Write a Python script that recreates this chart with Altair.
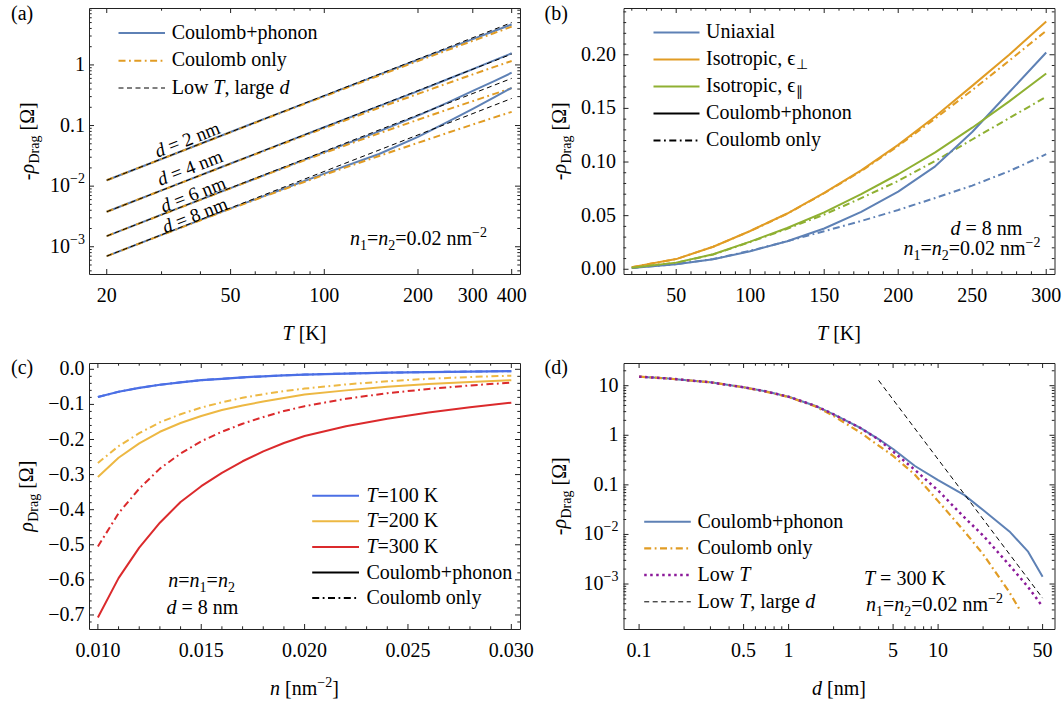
import altair as alt
import pandas as pd

# ---------------------------------------------------------------- data
# (a) -rho_Drag vs T (log-log) for four layer separations d = 2, 4, 6, 8 nm
T_A = [20, 30, 50, 70, 100, 150, 200, 250, 300, 350, 400]
T_A_ENDS = [20, 400]
D_VALUES = [2, 4, 6, 8]
A_PHONON = {
    2: [0.0125, 0.0281, 0.0781, 0.153, 0.309, 0.693, 1.22, 1.88, 2.67, 3.60, 4.65],
    4: [0.00378, 0.0085, 0.0236, 0.0461, 0.0936, 0.209, 0.370, 0.585, 0.851, 1.175, 1.557],
    6: [0.0015, 0.00338, 0.00928, 0.0180, 0.0364, 0.0802, 0.1455, 0.241, 0.372, 0.537, 0.744],
    8: [0.0007, 0.00157, 0.00429, 0.00815, 0.0161, 0.0339, 0.0651, 0.116, 0.189, 0.289, 0.42],
}
A_COULOMB = {
    2: [0.0125, 0.0281, 0.0773, 0.151, 0.303, 0.668, 1.16, 1.77, 2.50, 3.33, 4.28],
    4: [0.00378, 0.0085, 0.0234, 0.0454, 0.0907, 0.196, 0.333, 0.502, 0.698, 0.921, 1.164],
    6: [0.0015, 0.00336, 0.00924, 0.0178, 0.0353, 0.0743, 0.1245, 0.185, 0.253, 0.330, 0.414],
    8: [0.0007, 0.00156, 0.00424, 0.00797, 0.0154, 0.0315, 0.0518, 0.0763, 0.104, 0.135, 0.168],
}
A_LOWT = {2: [0.0125, 5.0], 4: [0.00378, 1.51], 6: [0.0015, 0.60], 8: [0.0007, 0.28]}
# label anchors (T, value) for the rotated "d = ... nm" captions
A_DLABEL_T = [36.3, 37.0, 37.9, 38.4]
A_DLABEL_V = [0.0583, 0.0199, 0.00723, 0.00328]

# (b) -rho_Drag vs T at d = 8 nm, three dielectric models
T_B = [20, 50, 75, 100, 125, 150, 175, 200, 225, 250, 275, 300]
B_UNI_PH = [0.0013, 0.0047, 0.0093, 0.0168, 0.0262, 0.0380, 0.0535, 0.0724, 0.0960, 0.128, 0.165, 0.2021]
B_UNI_CO = [0.0013, 0.0048, 0.0095, 0.0172, 0.0262, 0.0355, 0.0450, 0.0553, 0.0665, 0.0780, 0.0915, 0.1073]
B_PERP_PH = [0.0020, 0.0095, 0.0210, 0.0357, 0.0520, 0.0712, 0.0922, 0.116, 0.1425, 0.171, 0.200, 0.231]
B_PERP_CO = [0.0020, 0.0095, 0.0210, 0.0356, 0.0518, 0.0709, 0.0916, 0.115, 0.1405, 0.1670, 0.1945, 0.2224]
B_PAR_PH = [0.0015, 0.0062, 0.0140, 0.0258, 0.0385, 0.0530, 0.0700, 0.0886, 0.1090, 0.1320, 0.1565, 0.1825]
B_PAR_CO = [0.0015, 0.0061, 0.0138, 0.0254, 0.0378, 0.0510, 0.0663, 0.0824, 0.1010, 0.1210, 0.1410, 0.1608]

# (c) rho_Drag vs density n at d = 8 nm
N_C = [0.010, 0.011, 0.012, 0.013, 0.014, 0.015, 0.016, 0.017, 0.018, 0.019,
       0.020, 0.022, 0.024, 0.026, 0.028, 0.030]
C_100_PH = [-0.079, -0.064, -0.053, -0.044, -0.037, -0.031, -0.027, -0.023, -0.020, -0.017,
            -0.015, -0.012, -0.0095, -0.0078, -0.0064, -0.0053]
C_100_CO = [-0.079, -0.064, -0.053, -0.044, -0.037, -0.031, -0.027, -0.023, -0.020, -0.017,
            -0.015, -0.012, -0.0095, -0.0078, -0.0064, -0.0053]
C_200_PH = [-0.307, -0.252, -0.211, -0.178, -0.153, -0.133, -0.116, -0.103, -0.092, -0.082,
            -0.072, -0.060, -0.050, -0.042, -0.036, -0.031]
C_200_CO = [-0.267, -0.219, -0.182, -0.151, -0.128, -0.109, -0.094, -0.081, -0.071, -0.062,
            -0.055, -0.043, -0.034, -0.027, -0.022, -0.018]
C_300_PH = [-0.707, -0.595, -0.508, -0.437, -0.378, -0.333, -0.295, -0.262, -0.234, -0.210,
            -0.190, -0.162, -0.141, -0.123, -0.108, -0.095]
C_300_CO = [-0.505, -0.410, -0.340, -0.283, -0.240, -0.205, -0.178, -0.155, -0.136, -0.119,
            -0.105, -0.084, -0.068, -0.056, -0.046, -0.038]

# (d) -rho_Drag vs separation d at T = 300 K
D_D = [0.1, 0.15, 0.2, 0.3, 0.5, 0.7, 1, 1.5, 2, 3, 4, 5, 7, 10, 15, 20, 30, 40, 50]
D_PH = [15.2, 14.1, 13.1, 11.7, 9.3, 7.7, 6.0, 3.95, 2.65, 1.42, 0.84, 0.53, 0.24, 0.125,
        0.062, 0.031, 0.0115, 0.0045, 0.0014]
D_LT = [15.2, 14.1, 13.1, 11.7, 9.3, 7.7, 6.0, 3.95, 2.65, 1.42, 0.82, 0.47, 0.20, 0.077,
        0.022, 0.0095, 0.0024, 0.00087, 0.00035]
D_D_CO = [0.1, 0.15, 0.2, 0.3, 0.5, 0.7, 1, 1.5, 2, 3, 4, 5, 7, 10, 15, 20, 30, 35]
D_CO = [15.2, 14.1, 13.1, 11.7, 9.3, 7.6, 5.9, 3.85, 2.45, 1.15, 0.62, 0.385, 0.16, 0.047,
        0.0115, 0.0040, 0.00068, 0.00031]
D_D_LTLD = [4, 50]
D_LTLD = [12.8, 5.2e-4]

# ---------------------------------------------------------------- style
FONT = "Liberation Serif"
W, H = 431, 266
FRAME = "#222222"
BLUE, ORANGE, GREEN = "#5E81B5", "#E19C24", "#8FB032"
C_BLUE, C_GOLD, C_RED = "#4B6FE5", "#EDB843", "#DB2A2C"
PURPLE = "#8C1A9A"
DASHDOT = [7, 3.5, 1.8, 3.5]
DASHED = [5, 3.5]
DOTTED = [2.5, 3.5]
ONE = pd.DataFrame({"k": [0]})

# approximate advance widths (1/1000 em) used to lay out mixed-style text runs
REG = {" ": 250, "(": 333, ")": 333, "+": 564, ",": 250, ".": 250, "=": 564, "[": 333,
       "]": 333, "\u2212": 564, "-": 333, "C": 667, "D": 722, "I": 333, "K": 722, "L": 611,
       "T": 611, "U": 722, "\u03a9": 768, "a": 444, "b": 500, "c": 444, "d": 500, "e": 444,
       "g": 500, "h": 500, "i": 278, "l": 278, "m": 778, "n": 500, "o": 500, "p": 500,
       "r": 333, "s": 389, "t": 278, "u": 500, "w": 722, "x": 500, "y": 500, "z": 444,
       "\u03c1": 500, "\u03f5": 420, "\u22a5": 650, "\u2225": 420}
ITA = {"T": 556, "d": 500, "n": 500, "\u03c1": 500}


def R(t, size=20, sh=0):
    return (t, False, size, sh)


def I(t, size=20, sh=0):
    return (t, True, size, sh)


def text_width(s, size, italic):
    tbl = ITA if italic else REG
    return sum(tbl.get(ch, REG.get(ch, 500)) for ch in s) * size / 1000.0


def rich(pieces, x, y, align="left", angle=0):
    """Lay out a run of differently styled text pieces starting at a baseline point."""
    widths = [text_width(t, s, it) for t, it, s, sh in pieces]
    total = sum(widths)
    cum = {"left": 0.0, "center": -total / 2.0, "right": -total}[align]
    out = []
    for (t, it, s, sh), w in zip(pieces, widths):
        # SVG drops leading blanks, so they are turned into an offset
        lead = text_width(t[:len(t) - len(t.lstrip(" "))], s, False)
        pos = cum + lead
        if angle == 0:
            px, py = x + pos, y + sh
        else:
            px, py = x + sh, y - pos
        props = dict(text=t.strip(" "), font=FONT, fontSize=s, align="left",
                     baseline="alphabetic", color="black")
        if it:
            props["fontStyle"] = "italic"
        if angle:
            props["angle"] = angle
        out.append(alt.Chart(ONE).mark_text(**props).encode(x=alt.value(px), y=alt.value(py)))
        cum += w
    return out


def sc(domain, log=False):
    if log:
        return alt.Scale(type="log", domain=domain, nice=False)
    return alt.Scale(type="linear", domain=domain, nice=False, zero=False)


def curve(xs, ys, xsc, ysc, color, width=2.0, dash=None):
    df = pd.DataFrame({"x": xs, "y": ys})
    props = dict(color=color, strokeWidth=width, clip=True, strokeJoin="round", strokeCap="butt")
    if dash is not None:
        props["strokeDash"] = dash
    return alt.Chart(df).mark_line(**props).encode(
        x=alt.X("x:Q", scale=xsc, axis=None),
        y=alt.Y("y:Q", scale=ysc, axis=None))


def frame_ticks(xsc, ysc, xmaj, xmin, ymaj, ymin):
    layers = []
    for vals, ln in ((xmaj, 5), (xmin, 2.7)):
        df = pd.DataFrame({"v": vals})
        for y0, y1 in ((H, H - ln), (0, ln)):
            layers.append(alt.Chart(df).mark_rule(color=FRAME, strokeWidth=1).encode(
                x=alt.X("v:Q", scale=xsc, axis=None), y=alt.value(y0), y2=alt.value(y1)))
    for vals, ln in ((ymaj, 5), (ymin, 2.7)):
        df = pd.DataFrame({"v": vals})
        for x0, x1 in ((0, ln), (W, W - ln)):
            layers.append(alt.Chart(df).mark_rule(color=FRAME, strokeWidth=1).encode(
                y=alt.Y("v:Q", scale=ysc, axis=None), x=alt.value(x0), x2=alt.value(x1)))
    return layers


def xlabels(vals, texts, xsc):
    df = pd.DataFrame({"v": vals, "t": texts})
    return alt.Chart(df).mark_text(font=FONT, fontSize=20, baseline="middle", align="center",
                                   color="black").encode(
        x=alt.X("v:Q", scale=xsc, axis=None), y=alt.value(H + 21.7), text="t:N")


def ylabels(vals, texts, ysc, gap):
    df = pd.DataFrame({"v": vals, "t": texts})
    return alt.Chart(df).mark_text(font=FONT, fontSize=20, baseline="middle", align="right",
                                   color="black").encode(
        y=alt.Y("v:Q", scale=ysc, axis=None), x=alt.value(-gap), text="t:N")


def ypowers(vals, exps, ysc, gap):
    df = pd.DataFrame({"v": vals, "e": exps})
    base = alt.Chart(df).mark_text(font=FONT, fontSize=20, baseline="middle", align="right",
                                   color="black", text="10").encode(
        y=alt.Y("v:Q", scale=ysc, axis=None), x=alt.value(-gap - 15))
    sup = alt.Chart(df).mark_text(font=FONT, fontSize=14, baseline="middle", align="right",
                                  color="black", dy=-7).encode(
        y=alt.Y("v:Q", scale=ysc, axis=None), x=alt.value(-gap), text="e:N")
    return [base, sup]


def legend(entries, x0, x1, tx, rows, shift=6):
    layers = []
    for (color, width, dash, pieces), ry in zip(entries, rows):
        props = dict(color=color, strokeWidth=width, strokeCap="butt")
        if dash is not None:
            props["strokeDash"] = dash
        layers.append(alt.Chart(ONE).mark_rule(**props).encode(
            x=alt.value(x0), x2=alt.value(x1), y=alt.value(ry)))
        layers += rich(pieces, tx, ry + shift)
    return layers


def ytitle(pieces, x):
    return rich(pieces, x, H / 2.0, align="center", angle=270)


RHO_NEG = [R("-"), I("\u03c1"), R("Drag", 14, 5), R(" [\u03a9]")]
RHO = [I("\u03c1"), R("Drag", 14, 5), R(" [\u03a9]")]
DENS = [I("n"), R("1", 14, 5), R("="), I("n"), R("2", 14, 5), R("=0.02 nm"),
        R("\u22122", 14, -8)]
XTITLE_Y = 332

# ---------------------------------------------------------------- panel (a)
XA = sc([17.54, 425.4], log=True)
YA = sc([3.55e-4, 8.70], log=True)
la = []
for d in D_VALUES:
    la.append(curve(T_A, A_PHONON[d], XA, YA, BLUE, 2.0))
    la.append(curve(T_A, A_COULOMB[d], XA, YA, ORANGE, 2.0, DASHDOT))
    la.append(curve(T_A_ENDS, A_LOWT[d], XA, YA, "black", 1.0, DASHED))
la += frame_ticks(XA, YA, [20, 50, 100, 200, 300, 400], [30, 40, 60, 70, 80, 90],
                  [0.001, 0.01, 0.1, 1],
                  [k * 10.0 ** e for e in (-4, -3, -2, -1, 0) for k in range(2, 10)
                   if 3.6e-4 < k * 10.0 ** e < 8.6])
la.append(xlabels([20, 50, 100, 200, 300, 400], ["20", "50", "100", "200", "300", "400"], XA))
la.append(ylabels([1, 0.1], ["1", "0.1"], YA, 4))
la += ypowers([0.01, 0.001], ["\u22122", "\u22123"], YA, 4)
dlab = pd.DataFrame({"T": A_DLABEL_T, "v": A_DLABEL_V,
                     "t": ["= %d nm" % d for d in D_VALUES]})
for props, enc_text in ((dict(dx=-34.1, fontStyle="italic", text="d"), None),
                        (dict(dx=-19.8), "t:N")):
    mk = alt.Chart(dlab).mark_text(font=FONT, fontSize=19, angle=338.7, align="left",
                                   baseline="middle", color="black", **props)
    enc = dict(x=alt.X("T:Q", scale=XA, axis=None), y=alt.Y("v:Q", scale=YA, axis=None))
    if enc_text:
        enc["text"] = enc_text
    la.append(mk.encode(**enc))
la += legend([(BLUE, 2, None, [R("Coulomb+phonon")]),
              (ORANGE, 2, DASHDOT, [R("Coulomb only")]),
              ("black", 1, DASHED, [R("Low "), I("T"), R(", large "), I("d")])],
             29.5, 76, 82.7, [25, 52.7, 80], shift=5.5)
la += rich(DENS, 261, 236.5)
la += rich([I("T"), R(" [K]")], W / 2.0, XTITLE_Y, align="center")
la += ytitle(RHO_NEG, -55)
la += rich([R("(a)")], -78, 11.5)
# white anchor fixing the page origin
la.append(alt.Chart(ONE).mark_rect(color="white").encode(
    x=alt.value(-88), x2=alt.value(-87), y=alt.value(-7), y2=alt.value(-6)))
pa = alt.layer(*la).properties(width=W, height=H)

# ---------------------------------------------------------------- panel (b)
XB = sc([14.4, 305.6])
YB = sc([-0.0044, 0.2436])
lb = [
    curve(T_B, B_UNI_CO, XB, YB, BLUE, 2.0, DASHDOT),
    curve(T_B, B_PERP_CO, XB, YB, ORANGE, 2.0, DASHDOT),
    curve(T_B, B_PAR_CO, XB, YB, GREEN, 2.0, DASHDOT),
    curve(T_B, B_UNI_PH, XB, YB, BLUE, 2.0),
    curve(T_B, B_PERP_PH, XB, YB, ORANGE, 2.0),
    curve(T_B, B_PAR_PH, XB, YB, GREEN, 2.0),
]
lb += frame_ticks(XB, YB, [50, 100, 150, 200, 250, 300],
                  [t for t in range(20, 301, 10) if t % 50],
                  [0, 0.05, 0.10, 0.15, 0.20],
                  [i / 100.0 for i in range(0, 25) if i % 5])
lb.append(xlabels([50, 100, 150, 200, 250, 300], ["50", "100", "150", "200", "250", "300"], XB))
lb.append(ylabels([0, 0.05, 0.10, 0.15, 0.20], ["0.00", "0.05", "0.10", "0.15", "0.20"], YB, 7.5))
lb += legend([(BLUE, 2, None, [R("Uniaxial")]),
              (ORANGE, 2, None, [R("Isotropic, "), R("\u03f5"), R("\u22a5", 14, 4)]),
              (GREEN, 2, None, [R("Isotropic, "), R("\u03f5"), R("\u2225", 14, 4)]),
              ("black", 2, None, [R("Coulomb+phonon")]),
              ("black", 2, DASHDOT, [R("Coulomb only")])],
             30, 76, 82.6, [24.4, 51.4, 78.4, 105.4, 132.4])
lb += rich([I("d"), R(" = 8 nm")], 363, 226.5, align="center")
lb += rich(DENS, 348.5, 246.5, align="center")
lb += rich([I("T"), R(" [K]")], W / 2.0, XTITLE_Y, align="center")
lb += ytitle(RHO_NEG, -57.5)
lb += rich([R("(b)")], -79, 11.5)
pb = alt.layer(*lb).properties(width=W, height=H)

# ---------------------------------------------------------------- panel (c)
XC = sc([0.00957, 0.03042])
YC = sc([-0.740, 0.018])
lc = [
    curve(N_C, C_100_CO, XC, YC, C_BLUE, 2.0, DASHDOT),
    curve(N_C, C_200_CO, XC, YC, C_GOLD, 2.0, DASHDOT),
    curve(N_C, C_300_CO, XC, YC, C_RED, 2.0, DASHDOT),
    curve(N_C, C_100_PH, XC, YC, C_BLUE, 2.2),
    curve(N_C, C_200_PH, XC, YC, C_GOLD, 2.0),
    curve(N_C, C_300_PH, XC, YC, C_RED, 2.0),
]
lc += frame_ticks(XC, YC, [0.010, 0.015, 0.020, 0.025, 0.030],
                  [i / 1000.0 for i in range(10, 31) if i % 5],
                  [-i / 10.0 for i in range(0, 8)],
                  [-i / 100.0 for i in range(0, 74, 2) if i % 10])
lc.append(xlabels([0.010, 0.015, 0.020, 0.025, 0.030],
                  ["0.010", "0.015", "0.020", "0.025", "0.030"], XC))
lc.append(ylabels([-i / 10.0 for i in range(0, 8)],
                  ["0.0"] + ["\u22120.%d" % i for i in range(1, 8)], YC, 4.5))
lc += legend([(C_BLUE, 2, None, [I("T"), R("=100 K")]),
              (C_GOLD, 2, None, [I("T"), R("=200 K")]),
              (C_RED, 2, None, [I("T"), R("=300 K")]),
              ("black", 2, None, [R("Coulomb+phonon")]),
              ("black", 2, DASHDOT, [R("Coulomb only")])],
             223.2, 270, 277.4, [132.7, 158.3, 183.9, 209.5, 235.1])
lc += rich([I("n"), R("="), I("n"), R("1", 14, 5), R("="), I("n"), R("2", 14, 5)],
           112.6, 223.5, align="center")
lc += rich([I("d"), R(" = 8 nm")], 113.5, 251, align="center")
lc += rich([I("n"), R(" [nm"), R("\u22122", 14, -8), R("]")], W / 2.0, XTITLE_Y, align="center")
lc += ytitle(RHO, -56.5)
lc += rich([R("(c)")], -78, 11)
pc = alt.layer(*lc).properties(width=W, height=H)

# ---------------------------------------------------------------- panel (d)
XD = sc([0.07865, 60.06], log=True)
YD = sc([1.238e-4, 28.7], log=True)
ld = [
    curve(D_D, D_PH, XD, YD, BLUE, 2.0),
    curve(D_D_CO, D_CO, XD, YD, ORANGE, 2.2, DASHDOT),
    curve(D_D, D_LT, XD, YD, PURPLE, 2.5, DOTTED),
    curve(D_D_LTLD, D_LTLD, XD, YD, "black", 1.0, DASHED),
]
ld += frame_ticks(XD, YD, [0.1, 0.5, 1, 5, 10, 50],
                  [0.2, 0.3, 0.4, 0.6, 0.7, 0.8, 0.9, 2, 3, 4, 6, 7, 8, 9, 20, 30, 40],
                  [0.001, 0.01, 0.1, 1, 10],
                  [k * 10.0 ** e for e in range(-4, 2) for k in range(2, 10)
                   if 1.25e-4 < k * 10.0 ** e < 28])
ld.append(xlabels([0.1, 0.5, 1, 5, 10, 50], ["0.1", "0.5", "1", "5", "10", "50"], XD))
ld.append(ylabels([10, 1, 0.1], ["10", "1", "0.1"], YD, 5))
ld += ypowers([0.01, 0.001], ["\u22122", "\u22123"], YD, 5)
ld += legend([(BLUE, 2, None, [R("Coulomb+phonon")]),
              (ORANGE, 2.2, DASHDOT, [R("Coulomb only")]),
              (PURPLE, 2.5, DOTTED, [R("Low "), I("T")]),
              ("black", 1, DASHED, [R("Low "), I("T"), R(", large "), I("d")])],
             20.7, 67.3, 74, [158.7, 185.4, 212.1, 238.8])
ld += rich([I("T"), R(" = 300 K")], 281.4, 222, align="center")
ld += rich(DENS, 311, 248, align="center")
ld += rich([I("d"), R(" [nm]")], W / 2.0, XTITLE_Y, align="center")
ld += ytitle(RHO_NEG, -57.5)
ld += rich([R("(d)")], -79, 11)
pd_ = alt.layer(*ld).properties(width=W, height=H)

# ---------------------------------------------------------------- layout
chart = (alt.concat(pa, pb, pc, pd_, columns=2, bounds="flush",
                    spacing={"row": 89, "column": 103.5})
         .configure_view(stroke=FRAME, strokeWidth=1)
         .properties(padding=0, background="white"))

chart.save("out.html", embed_options={"renderer": "svg", "actions": False})
